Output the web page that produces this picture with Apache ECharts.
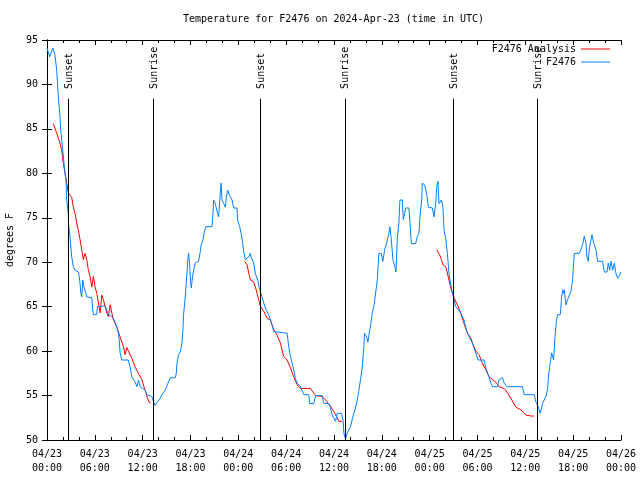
<!DOCTYPE html>
<html><head><meta charset="utf-8">
<script src="https://cdn.jsdelivr.net/npm/echarts@6/dist/echarts.min.js"></script>
<style>html,body{margin:0;padding:0;background:#fff}#c{width:640px;height:480px}</style>
</head><body><div id="c"></div>
<script>
// hours since 2024-04-23 00:00 UTC
const obsHours = [0.0,0.34,0.72,0.88,1.0,1.22,1.42,1.63,1.72,1.97,2.26,2.39,2.47,2.66,2.70,2.89,3.10,3.30,3.52,3.94,4.06,4.15,4.24,4.36,4.49,4.65,4.99,5.62,5.74,5.82,6.24,6.32,7.29,7.50,7.70,8.13,8.42,8.76,8.96,9.09,9.17,9.39,10.20,10.43,10.64,11.06,11.27,11.47,11.69,12.32,12.52,13.15,13.36,13.57,13.78,14.20,14.41,14.83,15.04,15.46,16.09,16.22,16.30,16.50,16.71,16.93,17.05,17.13,17.34,17.46,17.55,17.68,17.76,17.88,17.97,18.10,18.26,18.39,18.60,19.01,19.23,19.35,19.44,19.56,19.73,19.94,20.70,20.82,20.90,21.11,21.33,21.53,21.74,21.83,21.96,22.16,22.37,22.50,22.66,22.91,23.21,23.41,23.84,23.91,24.17,24.38,24.54,24.67,24.88,25.10,25.30,25.50,25.63,25.93,26.14,26.43,26.68,26.98,27.19,27.52,27.81,28.03,28.24,28.44,28.65,30.12,30.32,30.54,30.95,31.16,31.38,31.79,32.21,32.83,32.96,33.46,33.68,34.52,34.72,35.35,35.56,35.78,36.19,36.40,36.94,37.16,37.23,37.45,37.66,37.86,38.07,38.41,38.70,38.92,39.12,39.33,39.54,39.75,39.83,40.09,40.25,40.38,40.59,40.80,41.00,41.22,41.43,41.63,41.93,42.13,42.35,42.56,42.69,42.89,43.01,43.19,43.39,43.64,43.77,43.94,44.14,44.27,44.57,44.70,44.86,44.99,45.40,45.61,45.70,46.24,46.46,46.66,46.78,47.00,47.08,47.37,47.63,47.84,48.34,48.54,48.76,48.88,49.04,49.17,49.47,49.67,49.80,50.01,50.22,50.42,50.72,50.98,51.27,51.68,51.89,52.31,52.52,52.74,52.94,53.37,53.57,53.78,54.07,54.82,55.04,55.45,55.67,55.88,56.51,56.71,57.14,57.34,57.68,59.65,59.85,61.11,61.32,61.54,61.74,61.86,62.04,62.16,62.37,62.58,62.79,62.92,63.12,63.30,63.42,63.55,63.62,63.75,63.92,64.05,64.37,64.46,64.55,64.68,64.80,64.88,65.09,65.31,65.51,65.72,65.93,66.13,66.76,66.98,67.19,67.39,67.60,67.73,67.89,68.02,68.23,68.36,68.57,68.86,69.07,69.70,69.90,70.24,70.40,70.58,70.74,70.96,71.16,71.38,71.59,71.79,72.0];
const obsTemps = [94.1,93.1,94.1,94.1,93.3,91.6,88.6,86.4,84.9,82.6,80.0,79.2,77.0,75.5,74.4,72.8,70.6,69.5,69.1,68.9,68.3,67.6,66.5,66.1,68.0,67.2,66.1,66.0,64.6,64.1,64.1,65.0,65.1,64.6,64.1,63.9,63.5,62.7,62.0,60.9,59.8,59.0,59.0,58.2,57.1,56.5,56.0,56.7,56.0,55.6,55.1,54.9,54.3,53.9,54.2,54.7,55.1,55.6,56.1,57.0,57.0,57.5,58.6,59.6,59.9,60.9,62.4,64.1,66.1,67.6,68.7,70.5,71.0,69.9,68.4,67.1,68.4,69.1,69.9,70.1,71.2,72.0,71.8,72.5,73.4,74.0,74.0,75.5,77.0,76.6,75.7,75.1,77.9,78.9,77.0,76.6,76.2,77.3,78.1,77.5,77.0,76.1,76.1,74.7,74.0,73.1,72.2,71.2,70.3,70.1,70.6,71.0,70.5,69.9,68.7,68.0,66.9,66.1,65.4,64.6,64.1,63.9,62.9,62.2,62.0,62.0,60.5,59.4,57.9,56.9,56.4,56.0,55.1,55.1,54.1,54.1,55.0,55.0,54.1,54.1,53.6,52.8,52.1,53.0,53.0,52.1,50.8,50.1,50.8,50.9,51.5,52.8,53.6,54.5,55.6,56.8,58.2,60.5,62.0,61.6,61.0,61.8,62.9,64.3,65.0,65.2,68.0,71.0,71.0,70.1,71.4,72.0,72.2,73.3,74.0,72.5,70.3,69.5,68.9,72.7,74.4,77.0,77.0,74.8,75.5,76.1,76.1,73.4,72.1,72.1,72.9,73.3,75.1,77.0,78.9,78.7,77.6,76.2,76.1,75.1,76.6,78.4,79.1,76.6,77.0,76.2,73.6,72.7,71.0,68.8,67.1,66.1,65.0,64.6,64.3,63.5,62.7,62.0,61.6,60.9,60.3,59.8,59.0,59.0,58.1,57.1,56.4,56.0,56.0,56.8,57.0,56.4,56.0,56.0,55.1,55.1,54.3,53.9,53.4,53.0,53.6,54.1,54.1,54.9,55.7,57.3,58.7,59.8,60.0,59.0,60.1,62.0,63.5,64.1,64.1,64.8,66.1,66.9,66.5,66.9,65.2,65.8,66.3,66.7,68.0,71.0,71.0,71.4,72.0,72.9,72.2,70.6,70.1,71.4,72.5,73.1,72.2,71.4,70.1,70.1,68.9,68.9,69.9,69.1,70.1,69.1,69.9,68.7,68.2,68.5,68.9];

const anaHours1 = [0.79,1.22,1.63,1.85,2.05,2.26,2.48,2.68,3.10,3.30,3.52,3.73,3.93,4.15,4.36,4.56,4.78,4.99,5.19,5.40,5.62,5.82,6.03,6.25,6.45,6.66,6.87,7.07,7.29,7.50,7.70,7.92,8.13,8.33,8.76,9.17,9.59,9.80,10.02,10.22,10.64,11.06,11.47,11.90,12.19,12.44,12.60,12.85,13.03];
const anaTemps1 = [85.6,84.5,83.4,82.6,81.1,80.0,78.9,77.8,77.3,76.2,75.5,74.4,73.6,72.5,71.4,70.3,71.0,70.3,69.1,68.4,67.2,68.4,67.2,66.5,65.4,64.3,66.3,65.8,65.0,64.3,63.9,65.2,64.3,63.5,62.7,61.6,60.5,59.6,60.4,60.0,59.2,58.2,57.5,56.8,55.9,55.3,54.7,54.2,54.2];
const anaHours2 = [24.79,25.09,25.30,25.51,25.92,26.14,26.35,26.55,26.77,27.18,27.61,28.03,28.44,28.86,29.28,29.69,30.12,30.54,30.95,31.38,31.79,33.05,33.68,34.52,34.93,35.56,35.98,36.40,36.60,37.03];
const anaTemps2 = [70.1,69.7,68.8,68.0,67.8,67.2,66.5,65.8,65.0,64.5,63.7,63.5,62.4,61.8,60.9,59.4,59.0,58.1,57.1,56.2,55.8,55.8,55.0,54.9,54.5,53.8,53.2,52.5,52.1,52.1];
const anaHours3 = [48.88,49.04,49.26,49.47,49.67,50.01,50.22,50.42,50.64,51.06,51.48,51.89,52.31,52.74,53.15,53.37,53.78,54.20,54.62,55.04,55.45,55.88,56.30,56.71,57.34,57.77,58.18,58.81,59.44,60.07,60.70,61.11];
const anaTemps3 = [71.4,71.5,70.8,70.3,69.7,69.5,68.8,68.0,67.1,66.0,65.2,64.3,63.1,62.0,61.5,60.9,60.0,59.6,58.6,57.9,57.1,56.8,56.5,56.0,55.8,55.3,54.7,53.7,53.4,52.8,52.7,52.7];

const eventHours = [2.68, 13.36, 26.8, 37.36, 50.93, 61.48];
const eventNames = ['Sunset','Sunrise','Sunset','Sunrise','Sunset','Sunrise'];
const dayLabels = ['04/23','04/24','04/25','04/26'];

const FONT = 'DejaVu Sans Mono';
const zip = (a, b) => a.map((v, i) => [v, b[i]]);
const pad = n => (n < 10 ? '0' : '') + n;

const markData = [];
eventHours.forEach((h, i) => {
  markData.push([{coord: [h, 50]}, {coord: [h, 88.4]}]);
  markData.push([{coord: [h, 89.5], lineStyle: {color: 'rgba(0,0,0,0)', width: 0},
    label: {show: true, formatter: eventNames[i], position: 'insideStartTop', distance: [0, -6],
            fontFamily: FONT, fontSize: 10, color: '#000', opacity: 1}}, {coord: [h, 95]}]);
});

const xBase = {
  type: 'value', min: 0, max: 72, interval: 6,
  axisLine: {lineStyle: {color: '#000', width: 1}},
  axisTick: {inside: true, length: 5, lineStyle: {color: '#000'}},
  minorTick: {show: true, splitNumber: 3, length: 3, lineStyle: {color: '#000'}},
  splitLine: {show: false}
};
const yBase = {
  type: 'value', min: 50, max: 95, interval: 5,
  axisLine: {show: true, lineStyle: {color: '#000', width: 1}},
  axisTick: {show: true, inside: true, length: 5, lineStyle: {color: '#000'}},
  splitLine: {show: false}
};

const chart = echarts.init(document.getElementById('c'));
chart.setOption({
  animation: false,
  backgroundColor: '#fff',
  title: {text: 'Temperature for F2476 on 2024-Apr-23 (time in UTC)', left: 183, top: 14, padding: 0,
    textStyle: {fontFamily: FONT, fontSize: 10, fontWeight: 'normal', color: '#000'}},
  grid: {left: 47, right: 19, top: 40, bottom: 40, containLabel: false, outerBoundsMode: 'none'},
  legend: [
    {data: ['F2476 Analysis'], right: 30, top: 44, padding: 0, itemWidth: 29, itemHeight: 1, icon: 'rect',
     textStyle: {fontFamily: FONT, fontSize: 10, color: '#000'}, align: 'right'},
    {data: ['F2476'], right: 30, top: 57, padding: 0, itemWidth: 29, itemHeight: 1, icon: 'rect',
     textStyle: {fontFamily: FONT, fontSize: 10, color: '#000'}, align: 'right'}
  ],
  xAxis: [
    Object.assign({}, xBase, {position: 'bottom',
      axisLabel: {fontFamily: FONT, fontSize: 10, color: '#000', margin: 7, lineHeight: 14,
        formatter: v => dayLabels[Math.floor(v / 24)] + '\n' + pad(v % 24) + ':00'}}),
    Object.assign({}, xBase, {position: 'top', axisLabel: {show: false}})
  ],
  yAxis: [
    Object.assign({}, yBase, {position: 'left', name: 'degrees F', nameLocation: 'middle', nameGap: 32,
      nameTextStyle: {fontFamily: FONT, fontSize: 10, color: '#000'},
      axisLabel: {fontFamily: FONT, fontSize: 10, color: '#000', margin: 9}}),
    Object.assign({}, yBase, {position: 'right', axisLabel: {show: false}})
  ],
  series: [
    {name: 'F2476 Analysis', type: 'line', data: zip(anaHours1, anaTemps1), showSymbol: false, color: '#ff0000', lineStyle: {width: 1}},
    {name: 'F2476 Analysis', type: 'line', data: zip(anaHours2, anaTemps2), showSymbol: false, color: '#ff0000', lineStyle: {width: 1}},
    {name: 'F2476 Analysis', type: 'line', data: zip(anaHours3, anaTemps3), showSymbol: false, color: '#ff0000', lineStyle: {width: 1}},
    {name: 'F2476', type: 'line', data: zip(obsHours, obsTemps), showSymbol: false, color: '#0080ff', lineStyle: {width: 1},
     markLine: {silent: true, symbol: ['none', 'none'], animation: false,
       lineStyle: {color: '#000', width: 1, type: 'solid'}, label: {show: false}, data: markData}}
  ]
});
</script>
</body></html>
